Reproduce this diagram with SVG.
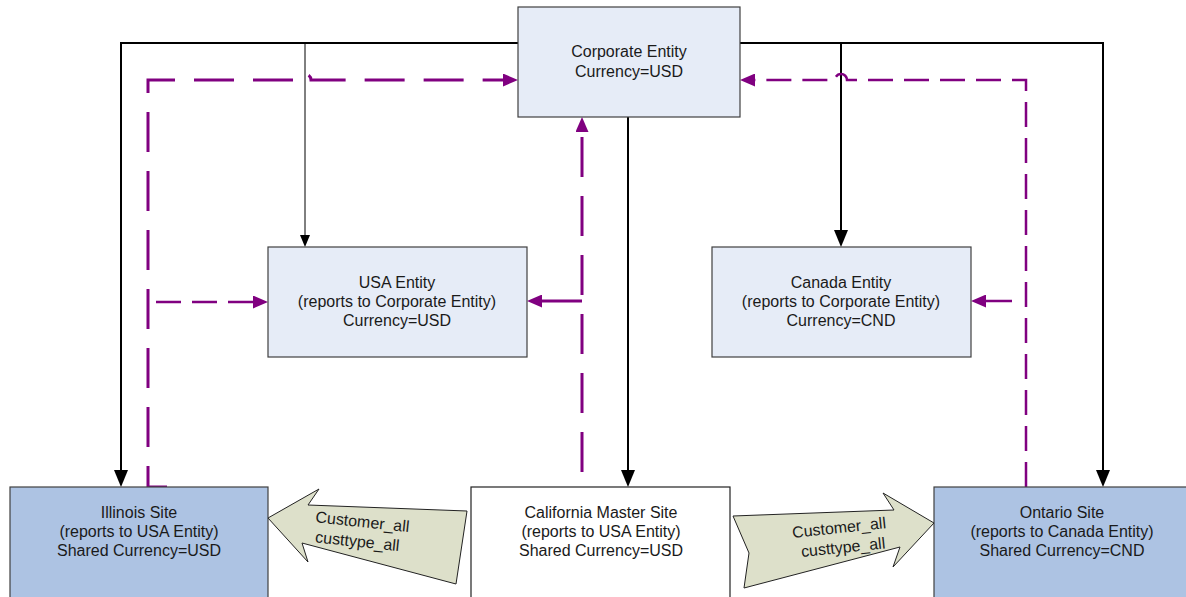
<svg xmlns="http://www.w3.org/2000/svg" width="1186" height="597" viewBox="0 0 1186 597">
<style>
.box{stroke:#404040;stroke-width:1.2}
.ent{fill:#e6ecf7}
.site{fill:#adc3e3}
.white{fill:#ffffff;stroke:#222}
.t{font-family:"Liberation Sans",Arial,sans-serif;font-size:16px;fill:#1a1a1a;text-anchor:middle}
.blk{fill:none;stroke:#000;stroke-width:2;marker-end:url(#ab)}
.thin{fill:none;stroke:#000;stroke-width:1;marker-end:url(#at)}
.pl{fill:none;stroke:#800080;stroke-width:3;stroke-dasharray:40 19;marker-end:url(#ap)}
.ps{fill:none;stroke:#800080;stroke-width:2.5;stroke-dasharray:25 11;marker-end:url(#ap)}
.psolid{fill:none;stroke:#800080;stroke-width:3;marker-end:url(#ap)}
.barrow{fill:#dde0ca;stroke:#222;stroke-width:1}
</style>
<defs>
<marker id="ab" markerUnits="userSpaceOnUse" markerWidth="17" markerHeight="14" refX="5" refY="7" orient="auto"><path d="M0,0 L17,7 L0,14 z" fill="#000"/></marker>
<marker id="at" markerUnits="userSpaceOnUse" markerWidth="12" markerHeight="10" refX="3" refY="5" orient="auto"><path d="M0,0 L12,5 L0,10 z" fill="#000"/></marker>
<marker id="ap" markerUnits="userSpaceOnUse" markerWidth="15" markerHeight="13" refX="5" refY="6.5" orient="auto"><path d="M0,0 L15,6.5 L0,13 z" fill="#800080"/></marker>
</defs>
<rect width="1186" height="597" fill="#ffffff"/>

<g id="connectors">
<path class="blk" d="M518,43 H121 V475"/>
<path class="blk" d="M740,43 H1103 V475"/>
<path class="blk" d="M841,43 V235"/>
<path class="blk" d="M628,117 V475"/>
<path class="thin" d="M305,43 V238"/>
<path class="pl" d="M167,487 H148 V80 H299 a6,6 0 0 1 12,0 H508"/>
<path class="ps" d="M156,302 H258"/>
<path class="pl" d="M582,472 V127"/>
<path class="psolid" d="M582,301 H537"/>
<path class="ps" d="M1026,487 V80 H847 a6,6 0 0 0 -12,0 H750"/>
<path class="psolid" style="stroke-width:2.5" d="M1012,301 H981"/>
</g>

<g id="corporate">
<rect class="box ent" x="518" y="7" width="222" height="110"/>
<text class="t" x="629" y="57">Corporate Entity</text>
<text class="t" x="629" y="77">Currency=USD</text>
</g>
<g id="usa">
<rect class="box ent" x="268" y="247" width="259" height="110"/>
<text class="t" x="397" y="288">USA Entity</text>
<text class="t" x="397" y="307">(reports to Corporate Entity)</text>
<text class="t" x="397" y="326">Currency=USD</text>
</g>
<g id="canada">
<rect class="box ent" x="712" y="247" width="259" height="110"/>
<text class="t" x="841" y="288">Canada Entity</text>
<text class="t" x="841" y="307">(reports to Corporate Entity)</text>
<text class="t" x="841" y="326">Currency=CND</text>
</g>
<g id="illinois">
<rect class="box site" x="10" y="487" width="258" height="120"/>
<text class="t" x="139" y="518">Illinois Site</text>
<text class="t" x="139" y="537">(reports to USA Entity)</text>
<text class="t" x="139" y="556">Shared Currency=USD</text>
</g>
<g id="california">
<rect class="white" stroke-width="1.2" x="471" y="487" width="259" height="120"/>
<text class="t" x="601" y="518">California Master Site</text>
<text class="t" x="601" y="537">(reports to USA Entity)</text>
<text class="t" x="601" y="556">Shared Currency=USD</text>
</g>
<g id="ontario">
<rect class="box site" x="934" y="487" width="260" height="120"/>
<text class="t" x="1062" y="518">Ontario Site</text>
<text class="t" x="1062" y="537">(reports to Canada Entity)</text>
<text class="t" x="1062" y="556">Shared Currency=CND</text>
</g>
<g id="flow-left">
<polygon class="barrow" points="268,518 319,489 308,505 467,511 456,584 302,543 308,562"/>
<g transform="rotate(6 360 536)">
<text class="t" x="361" y="527">Customer_all</text>
<text class="t" x="358" y="547">custtype_all</text>
</g>
</g>
<g id="flow-right">
<polygon class="barrow" points="934,523 883,493 894,510 733,516 749,553 744,588 900,547 893,567"/>
<g transform="rotate(-6 840 537)">
<text class="t" x="840" y="533">Customer_all</text>
<text class="t" x="842" y="553">custtype_all</text>
</g>
</g>
</svg>
